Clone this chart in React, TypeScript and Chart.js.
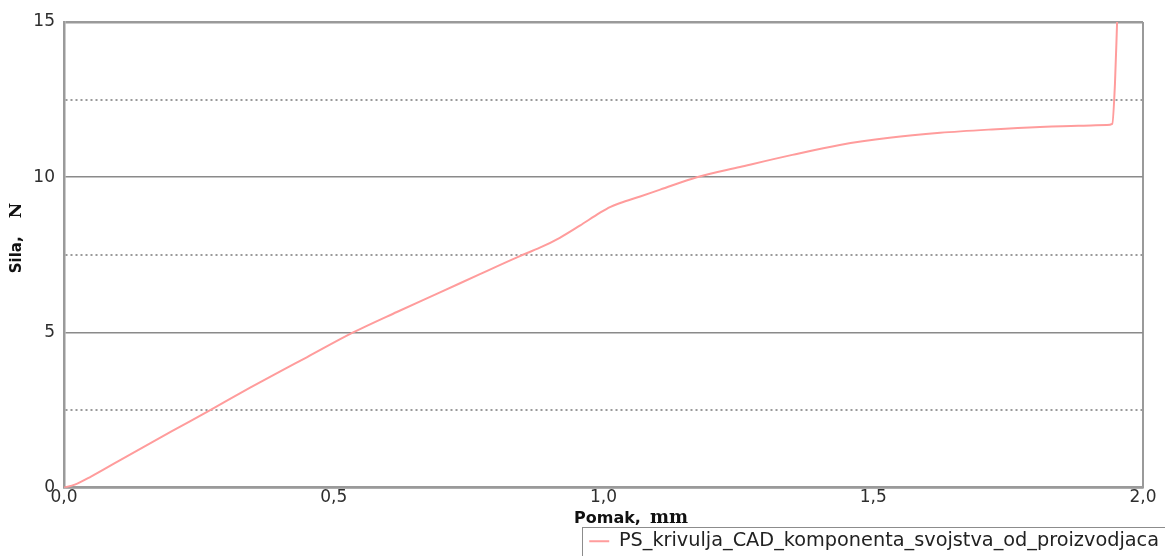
import React, { useEffect, useRef } from 'react';
import { Chart, registerables } from 'chart.js';

Chart.register(...registerables);

// Displacement (mm) and force (N)
const displacement = [0, 0.02, 0.05, 0.1, 0.2, 0.271, 0.345, 0.4, 0.45, 0.536, 0.617, 0.697, 0.771, 0.845, 0.882, 0.919, 0.956, 0.993, 1.012, 1.031, 1.068, 1.105, 1.173, 1.253, 1.35, 1.438, 1.53, 1.624, 1.72, 1.809, 1.88, 1.933, 1.943, 1.948, 1.952];
const force = [0, 0.1, 0.36, 0.85, 1.82, 2.5, 3.22, 3.74, 4.2, 5.0, 5.66, 6.29, 6.88, 7.46, 7.73, 8.05, 8.44, 8.85, 9.04, 9.17, 9.38, 9.6, 10.0, 10.33, 10.72, 11.04, 11.27, 11.43, 11.54, 11.62, 11.66, 11.68, 11.72, 13.0, 15];

const seriesLabel = 'PS_krivulja_CAD_komponenta_svojstva_od_proizvodjaca';
const xTitleParts = ['Pomak,', 'mm'];
const yTitleParts = ['Sila,', 'N'];
const xRange = [0, 2];
const yRange = [0, 15];
const xStep = 0.5;
const yStep = 2.5;

const LINE_COLOR = '#ff9c9c';
const AXIS_COLOR = '#9a9a9a';
const GRID_COLOR = '#8a8a8a';
const TEXT_COLOR = '#2e2e2e';

const titlesPlugin = {
  id: 'mixedTitles',
  afterDraw(chart: any) {
    const ctx = chart.ctx as CanvasRenderingContext2D;
    const a = chart.chartArea;
    ctx.save();
    ctx.fillStyle = '#111';
    ctx.textBaseline = 'alphabetic';
    ctx.textAlign = 'left';
    // x title
    let x = a.left + 510;
    const y = a.bottom + 35;
    ctx.font = 'bold 16px "DejaVu Sans"';
    ctx.fillText(xTitleParts[0], x, y);
    x += ctx.measureText(xTitleParts[0]).width + 9;
    ctx.font = 'bold 18px "DejaVu Serif"';
    ctx.fillText(xTitleParts[1], x, y);
    // y title (rotated)
    ctx.translate(21, 238);
    ctx.rotate(-Math.PI / 2);
    ctx.font = 'bold 15px "DejaVu Sans"';
    const w1 = ctx.measureText(yTitleParts[0]).width;
    ctx.font = 'bold 17px "DejaVu Serif"';
    const w2 = ctx.measureText(yTitleParts[1]).width;
    const gap = 18;
    const total = w1 + gap + w2;
    ctx.font = 'bold 15px "DejaVu Sans"';
    ctx.fillText(yTitleParts[0], -total / 2, 0);
    ctx.font = 'bold 17px "DejaVu Serif"';
    ctx.fillText(yTitleParts[1], -total / 2 + w1 + gap, 0);
    ctx.restore();

    // legend frame
    const lg = chart.legend;
    if (lg && lg.legendHitBoxes && lg.legendHitBoxes[0]) {
      const hb = lg.legendHitBoxes[0];
      ctx.save();
      ctx.strokeStyle = '#8c8c8c';
      ctx.lineWidth = 1;
      ctx.strokeRect(Math.round(hb.left - 7) + 0.5, Math.round(lg.top + 1) + 0.5, 1000, 200);
      ctx.restore();
    }
  },
};

export default function App() {
  const ref = useRef<HTMLCanvasElement>(null);

  useEffect(() => {
    document.body.style.margin = '0';
    const points = displacement.map((d, i) => ({ x: d, y: force[i] }));
    const chart = new Chart(ref.current!, {
      type: 'line',
      data: {
        datasets: [
          {
            label: seriesLabel,
            data: points,
            borderColor: LINE_COLOR,
            backgroundColor: LINE_COLOR,
            borderWidth: 2,
            pointRadius: 0,
            cubicInterpolationMode: 'monotone',
            fill: false,
          },
        ],
      },
      options: {
        animation: false,
        responsive: true,
        maintainAspectRatio: false,
        layout: { padding: { top: 22, left: 0, right: 0, bottom: 1 } },
        plugins: {
          tooltip: { enabled: false },
          legend: {
            display: true,
            position: 'bottom',
            align: 'end',
            labels: {
              boxWidth: 20,
              boxHeight: 0,
              padding: 6,
              color: '#222',
              font: { family: '"DejaVu Sans"', size: 19.3 },
            },
          },
        },
        scales: {
          x: {
            type: 'linear',
            min: xRange[0],
            max: xRange[1],
            afterFit: (s: any) => {
              s.height = 38;
            },
            ticks: {
              stepSize: xStep,
              padding: 0,
              color: TEXT_COLOR,
              font: { family: '"DejaVu Sans"', size: 17 },
              maxRotation: 0,
              callback: (v: any) => Number(v).toFixed(1).replace('.', ','),
            },
            grid: {
              drawTicks: false,
              color: (c: any) => (c.tick && c.tick.value === xRange[1] ? AXIS_COLOR : 'rgba(0,0,0,0)'),
              lineWidth: 2,
            },
            border: { display: true, color: AXIS_COLOR, width: 2.5 },
          },
          y: {
            type: 'linear',
            min: yRange[0],
            max: yRange[1],
            afterFit: (s: any) => {
              s.width = 64;
            },
            ticks: {
              stepSize: yStep,
              padding: 9,
              color: TEXT_COLOR,
              font: { family: '"DejaVu Sans"', size: 17 },
              callback: (v: any) => (Number(v) % 5 === 0 ? String(v) : ''),
            },
            grid: {
              drawTicks: false,
              color: (c: any) => {
                const v = c.tick ? c.tick.value : 0;
                if (v === yRange[1]) return AXIS_COLOR;
                return v % 5 === 0 ? GRID_COLOR : '#9a9a9a';
              },
              lineWidth: (c: any) => {
                const v = c.tick ? c.tick.value : 0;
                if (v === yRange[1]) return 2.5;
                return v % 5 === 0 ? 1.5 : 2;
              },
            },
            border: {
              display: true,
              color: AXIS_COLOR,
              width: 2.5,
              dash: (c: any) => (c.tick && c.tick.value % 5 !== 0 ? [2, 3] : []),
            },
          },
          yRight: {
            type: 'linear',
            position: 'right',
            display: true,
            afterFit: (s: any) => {
              s.width = 22;
            },
            ticks: { display: false },
            grid: { display: false },
            border: { display: false },
          },
        },
      } as any,
      plugins: [titlesPlugin],
    });
    return () => chart.destroy();
  }, []);

  return (
    <div style={{ position: 'fixed', left: 0, top: 0, width: 1165, height: 562 }}>
      <canvas ref={ref} />
    </div>
  );
}
